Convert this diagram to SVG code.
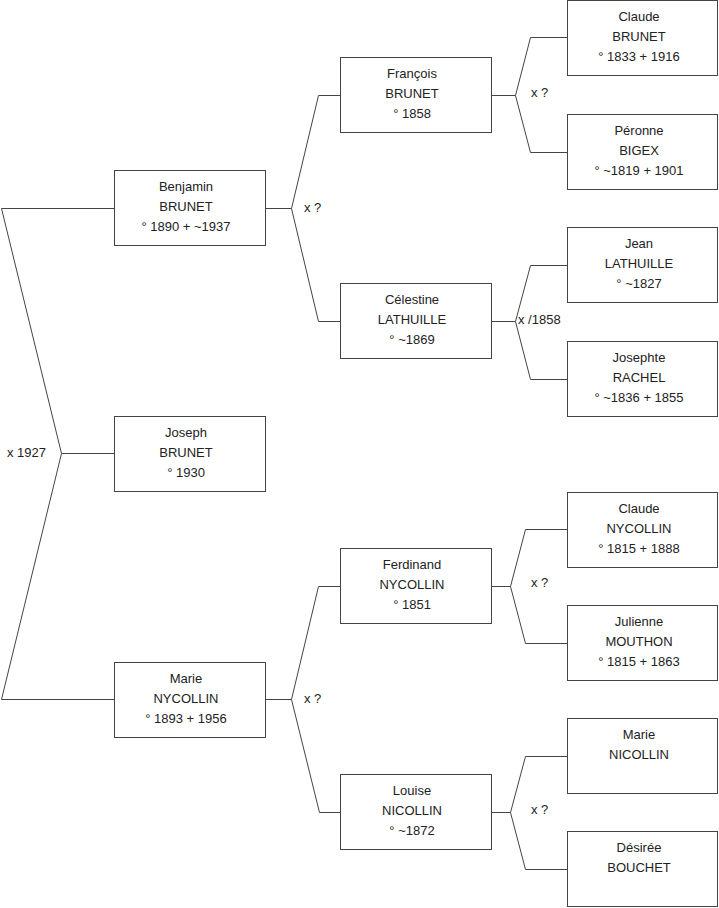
<svg xmlns="http://www.w3.org/2000/svg" width="719" height="908" viewBox="0 0 719 908">
<style>
rect.box{fill:#fff;stroke:#444;stroke-width:1}
.c path{fill:none;stroke:#444;stroke-width:1}
text{font-family:"Liberation Sans",Arial,sans-serif;font-size:13px;fill:#222}
text.n{text-anchor:middle}
</style>
<rect width="719" height="908" fill="#fff"/>
<g id="connectors" class="c">
<path d="M1.5,208.5 H114.5 M1.5,208.5 L61.5,453.5 L1.5,699.5 H114.5 M61.5,453.5 H114.5"/>
<path d="M265.5,208.5 H291.5 L318.5,95.5 H340.5 M291.5,208.5 L318.5,321.5 H340.5"/>
<path d="M265.5,699.5 H291.5 L318.5,586.5 H340.5 M291.5,699.5 L319.5,812.5 H340.5"/>
<path d="M491.5,95.5 H515.5 L530.5,37.5 H567.5 M515.5,95.5 L530.5,152.5 H567.5"/>
<path d="M491.5,321.5 H515.5 L530.5,265.5 H567.5 M515.5,321.5 L530.5,379.5 H567.5"/>
<path d="M491.5,586.5 H510.5 L525.5,529.5 H567.5 M510.5,586.5 L525.5,643.5 H567.5"/>
<path d="M491.5,812.5 H510.5 L525.5,756.5 H567.5 M510.5,812.5 L525.5,869.5 H567.5"/>
<text x="7" y="457">x 1927</text>
<text x="304" y="212">x ?</text>
<text x="304" y="703">x ?</text>
<text x="531" y="97">x ?</text>
<text x="518" y="324">x /1858</text>
<text x="531" y="587">x ?</text>
<text x="531" y="814">x ?</text>
</g>
<g id="benjamin"><rect class="box" x="114.5" y="170.5" width="151" height="75"/>
<text class="n" x="186" y="190.5">Benjamin</text><text class="n" x="186" y="210.5">BRUNET</text><text class="n" x="186" y="230.5">° 1890 + ~1937</text></g>
<g id="joseph"><rect class="box" x="114.5" y="416.5" width="151" height="75"/>
<text class="n" x="186" y="436.5">Joseph</text><text class="n" x="186" y="456.5">BRUNET</text><text class="n" x="186" y="476.5">° 1930</text></g>
<g id="marie-nycollin"><rect class="box" x="114.5" y="662.5" width="151" height="75"/>
<text class="n" x="186" y="682.5">Marie</text><text class="n" x="186" y="702.5">NYCOLLIN</text><text class="n" x="186" y="722.5">° 1893 + 1956</text></g>
<g id="francois"><rect class="box" x="340.5" y="57.5" width="151" height="75"/>
<text class="n" x="412" y="77.5">François</text><text class="n" x="412" y="97.5">BRUNET</text><text class="n" x="412" y="117.5">° 1858</text></g>
<g id="celestine"><rect class="box" x="340.5" y="283.5" width="151" height="75"/>
<text class="n" x="412" y="303.5">Célestine</text><text class="n" x="412" y="323.5">LATHUILLE</text><text class="n" x="412" y="343.5">° ~1869</text></g>
<g id="ferdinand"><rect class="box" x="340.5" y="548.5" width="151" height="75"/>
<text class="n" x="412" y="568.5">Ferdinand</text><text class="n" x="412" y="588.5">NYCOLLIN</text><text class="n" x="412" y="608.5">° 1851</text></g>
<g id="louise"><rect class="box" x="340.5" y="774.5" width="151" height="75"/>
<text class="n" x="412" y="794.5">Louise</text><text class="n" x="412" y="814.5">NICOLLIN</text><text class="n" x="412" y="834.5">° ~1872</text></g>
<g id="claude-brunet"><rect class="box" x="567.5" y="0.5" width="150" height="75"/>
<text class="n" x="639" y="20.5">Claude</text><text class="n" x="639" y="40.5">BRUNET</text><text class="n" x="639" y="60.5">° 1833 + 1916</text></g>
<g id="peronne"><rect class="box" x="567.5" y="114.5" width="150" height="75"/>
<text class="n" x="639" y="134.5">Péronne</text><text class="n" x="639" y="154.5">BIGEX</text><text class="n" x="639" y="174.5">° ~1819 + 1901</text></g>
<g id="jean"><rect class="box" x="567.5" y="227.5" width="150" height="75"/>
<text class="n" x="639" y="247.5">Jean</text><text class="n" x="639" y="267.5">LATHUILLE</text><text class="n" x="639" y="287.5">° ~1827</text></g>
<g id="josephte"><rect class="box" x="567.5" y="341.5" width="150" height="75"/>
<text class="n" x="639" y="361.5">Josephte</text><text class="n" x="639" y="381.5">RACHEL</text><text class="n" x="639" y="401.5">° ~1836 + 1855</text></g>
<g id="claude-nycollin"><rect class="box" x="567.5" y="492.5" width="150" height="75"/>
<text class="n" x="639" y="512.5">Claude</text><text class="n" x="639" y="532.5">NYCOLLIN</text><text class="n" x="639" y="552.5">° 1815 + 1888</text></g>
<g id="julienne"><rect class="box" x="567.5" y="605.5" width="150" height="75"/>
<text class="n" x="639" y="625.5">Julienne</text><text class="n" x="639" y="645.5">MOUTHON</text><text class="n" x="639" y="665.5">° 1815 + 1863</text></g>
<g id="marie-nicollin"><rect class="box" x="567.5" y="718.5" width="150" height="75"/>
<text class="n" x="639" y="738.5">Marie</text><text class="n" x="639" y="758.5">NICOLLIN</text></g>
<g id="desiree"><rect class="box" x="567.5" y="831.5" width="150" height="75"/>
<text class="n" x="639" y="851.5">Désirée</text><text class="n" x="639" y="871.5">BOUCHET</text></g>
</svg>
